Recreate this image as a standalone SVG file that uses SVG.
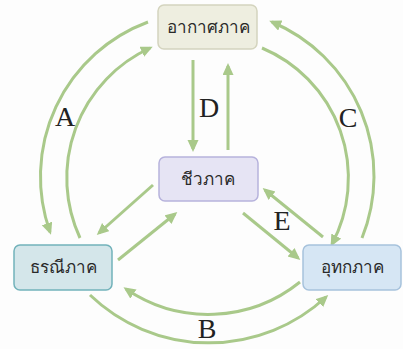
<svg xmlns="http://www.w3.org/2000/svg" width="403" height="349" viewBox="0 0 403 349">
<defs>
<marker id="ah" markerUnits="userSpaceOnUse" markerWidth="13" markerHeight="12" refX="9" refY="5.5" orient="auto">
<path d="M0,0 L12,5.5 L0,11 z" fill="#a9c98a"/>
</marker>
<style>
.c{fill:none;stroke:#a9c98a;stroke-width:3;marker-end:url(#ah)}
.n{stroke-width:1.5}
.t{font-family:"Noto Sans","DejaVu Sans",sans-serif;font-size:17px;fill:#2a2a2a;text-anchor:middle}
.l{font-family:"Liberation Serif","DejaVu Serif",serif;font-size:28px;fill:#222;text-anchor:middle}
</style>
</defs>
<rect width="403" height="349" fill="#fdfdfd"/>
<g id="connectors">
<path class="c" d="M193,60 L193,149"/>
<path class="c" d="M228,150 L228,66"/>
<path class="c" d="M148,22 A165,165 0 0 0 50,232"/>
<path class="c" d="M80,238 A143,143 0 0 1 150,48"/>
<path class="c" d="M362,238 A167,167 0 0 0 272,22"/>
<path class="c" d="M262,48 A141,141 0 0 1 332,244"/>
<path class="c" d="M300,282 A146,146 0 0 1 126,289"/>
<path class="c" d="M90,295 A172,172 0 0 0 326,297"/>
<path class="c" d="M153,185 L99,233"/>
<path class="c" d="M118,260 L175,214"/>
<path class="c" d="M243,213 L298,258"/>
<path class="c" d="M323,237 L265,190"/>
<text class="l" x="65" y="126">A</text>
<text class="l" x="207" y="338">B</text>
<text class="l" x="348" y="127">C</text>
<text class="l" x="209" y="117">D</text>
<text class="l" x="282" y="230">E</text>
</g>
<g id="atmosphere">
<rect class="n" x="158" y="5" width="99" height="44" rx="6" fill="#eeeee0" stroke="#d4d4be"/>
<text class="t" x="208" y="33">อากาศภาค</text>
</g>
<g id="biosphere">
<rect class="n" x="159" y="157" width="99" height="44" rx="6" fill="#e6e4f4" stroke="#b6b2dc"/>
<text class="t" x="208" y="185">ชีวภาค</text>
</g>
<g id="lithosphere">
<rect class="n" x="14" y="245" width="98" height="45" rx="6" fill="#d4e6ea" stroke="#72b2ba"/>
<text class="t" x="63" y="273">ธรณีภาค</text>
</g>
<g id="hydrosphere">
<rect class="n" x="303" y="245" width="98" height="45" rx="6" fill="#d6e6f4" stroke="#a6c2dc"/>
<text class="t" x="352" y="273">อุทกภาค</text>
</g>
</svg>
